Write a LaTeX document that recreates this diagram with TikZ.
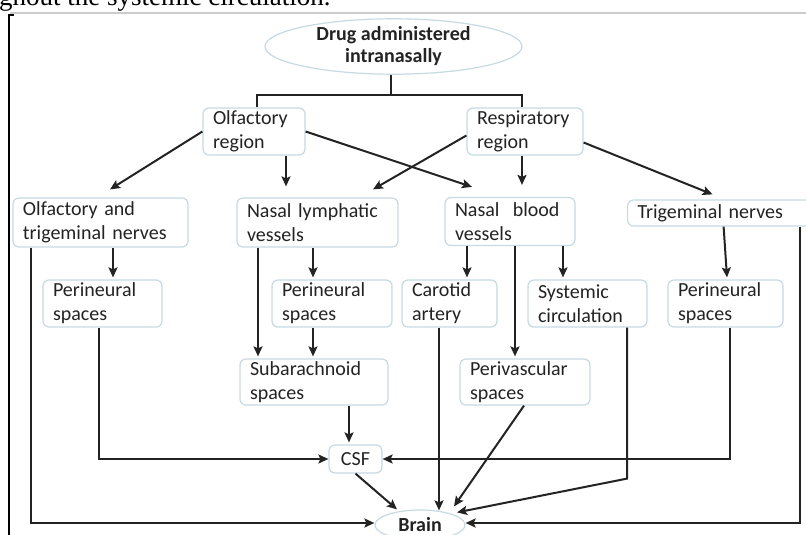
\documentclass[tikz,border=0pt]{standalone}
\usepackage{fontspec}
\setmainfont{Carlito}
\newfontfamily\pagefont{Liberation Serif}
\usetikzlibrary{arrows.meta,shapes.geometric}
\definecolor{boxline}{RGB}{198,218,226}
\definecolor{ink}{RGB}{35,35,35}
\begin{document}
\begin{tikzpicture}[x=1pt,y=-1pt,>={Stealth[length=10pt,width=9pt,inset=2pt]},
  box/.style={draw=boxline,line width=1.2pt,rounded corners=6pt,fill=white,text=ink,align=left,
    inner xsep=10pt,inner ysep=2pt,minimum height=47pt,font=\fontsize{20}{24}\selectfont},
  oval/.style={ellipse,draw=boxline,line width=1.2pt,fill=white,text=ink,inner sep=0pt,align=center,
    font=\bfseries\fontsize{20}{22}\selectfont},
  link/.style={draw=ink,line width=2pt},
  arr/.style={link,->}]
\useasboundingbox (0,0) rectangle (806,535);
% page around the figure
\node[anchor=base west,inner sep=0pt,font=\pagefont\fontsize{27}{30}\selectfont] (pagetext) at (-1,6) {ghout the systemic circulation.};
\draw[black!20,line width=2pt] (10,13.5) -- (806,13.5);
\draw[black,line width=2pt] (14,15) -- (9,15) -- (9,535);
% nodes
\node[oval,minimum width=257pt,minimum height=43pt] (drug) at (393.5,46.5) {Drug administered\\intranasally};
\node[box,text width=82pt] (olfR) at (254,131.5) {Olfactory\\region};
\node[box,text width=96pt] (resp) at (525,131.5) {Respiratory\\region};
\node[box,text width=155pt,minimum height=49pt] (olfT) at (100.5,222.5) {Olfactory and\\trigeminal nerves};
\node[box,text width=141pt,minimum height=49pt] (lymph) at (317.5,222.5) {Nasal lymphatic\\vessels};
\node[box,text width=110pt,minimum height=48pt] (blood) at (510,221.5) {Nasal~ blood\\vessels};
\node[box,text width=170pt,minimum height=26pt,anchor=west] (trig) at (627,213) {Trigeminal nerves};
\node[box,text width=99pt] (periA) at (102.5,303.5) {Perineural\\spaces};
\node[box,text width=100pt] (periB) at (332,303.5) {Perineural\\spaces};
\node[box,text width=75pt] (carotid) at (449.5,303.5) {Carotid\\artery};
\node[box,text width=99pt] (systemic) at (587.5,303.5) {Systemic\\circulation};
\node[box,text width=95pt] (periC) at (725.5,303.5) {Perineural\\spaces};
\node[box,text width=128pt,minimum height=46pt] (subarach) at (314,382) {Subarachnoid\\spaces};
\node[box,text width=110pt,minimum height=46pt] (perivasc) at (525,382) {Perivascular\\spaces};
\node[box,align=center,inner xsep=5pt,minimum width=53pt,minimum height=28pt] (csf) at (355.5,459) {CSF};
\node[oval,minimum width=90pt,minimum height=30pt] (brain) at (420,525) {Brain};
% split from the drug
\draw[link] ([xshift=-3pt]drug.south) -- ++(0,20) coordinate (split);
\draw[link] ([xshift=3pt]olfR.north) |- (split) -| ([xshift=-3pt]resp.north);
% regions
\draw[arr] (olfR.west) -- ([xshift=9.5pt,yshift=8pt]olfT.north);
\draw[arr] ([xshift=32pt]olfR.south) -- ([xshift=-31.5pt,yshift=11pt]lymph.north);
\draw[arr] (olfR.east) -- ([xshift=-38pt,yshift=10pt]blood.north);
\draw[arr] ([yshift=-4pt]resp.west) -- ([xshift=55.5pt,yshift=8pt]lymph.north);
\draw[arr] ([xshift=-3pt]resp.south) -- ([xshift=12pt,yshift=12pt]blood.north);
\draw[arr] ([yshift=-11pt]resp.east) -- ([xshift=-10pt,yshift=5pt]trig.north);
% second row
\draw[arr] ([xshift=12.5pt]olfT.south) -- ([xshift=10.5pt,yshift=2pt]periA.north);
\draw[arr] ([xshift=-70pt]olfT.south) |- ([yshift=2pt]brain.west);
\draw[arr] ([xshift=-59.5pt]lymph.south) -- ([xshift=-56pt,yshift=2pt]subarach.north);
\draw[arr] ([xshift=-4.5pt]lymph.south) -- ([xshift=-19pt,yshift=2pt]periB.north);
\draw[arr] ([xshift=-43pt]blood.south) -- ([xshift=17.5pt,yshift=2pt]carotid.north);
\draw[arr] ([xshift=5pt]blood.south) -- ([xshift=-10pt,yshift=2pt]perivasc.north);
\draw[arr] ([xshift=53pt]blood.south) -- ([xshift=-24.5pt,yshift=2pt]systemic.north);
\draw[arr] ([xshift=1pt]trig.south) -- ([xshift=1.5pt,yshift=2pt]periC.north);
\draw[arr] ([xshift=77pt]trig.south) |- ([yshift=2pt]brain.east);
% lower rows
\draw[arr] ([xshift=-4pt]periA.south) |- (csf.west);
\draw[arr] ([xshift=-19pt]periB.south) -- ([xshift=-1pt,yshift=2pt]subarach.north);
\draw[arr] ([xshift=35pt]subarach.south) -- ([xshift=-6.5pt,yshift=2pt]csf.north);
\draw[arr] ([xshift=4.5pt]periC.south) |- (csf.east);
\draw[arr] ([xshift=-10.5pt]carotid.south) -- ([xshift=19pt,yshift=-1pt]brain.north);
\draw[arr] ([xshift=-1pt]perivasc.south) -- ([xshift=34pt,yshift=3pt]brain.north);
\draw[arr] ([xshift=39.5pt]systemic.south) -- ++(0,151) -- ([xshift=37pt,yshift=-3pt]brain.north);
\draw[arr] (csf.south) -- ([xshift=-23pt]brain.north);
\end{tikzpicture}
\end{document}
